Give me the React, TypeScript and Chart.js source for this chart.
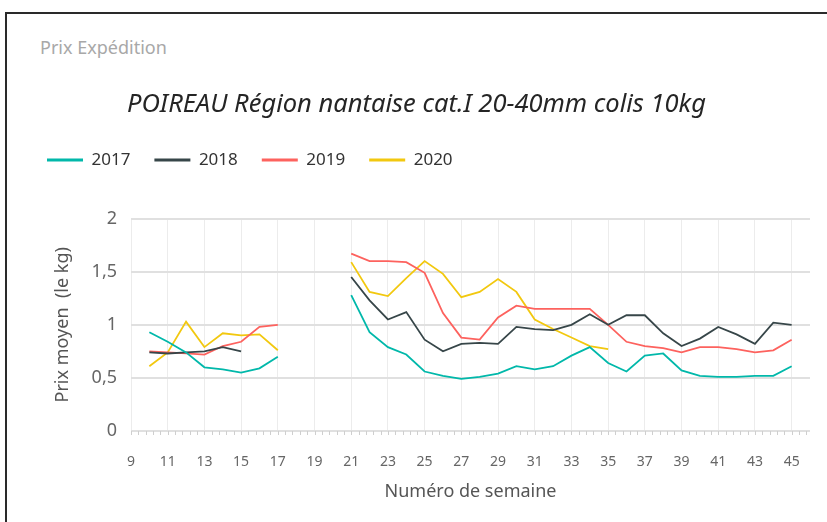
import React, { useEffect, useRef } from 'react';
import { Chart, registerables } from 'chart.js';

Chart.register(...registerables);

const FONT = '"Noto Sans", "Open Sans", sans-serif';

const weeks = [10, 11, 12, 13, 14, 15, 16, 17, 18, 19, 20, 21, 22, 23, 24, 25, 26, 27, 28, 29, 30, 31, 32, 33, 34, 35, 36, 37, 38, 39, 40, 41, 42, 43, 44, 45];

const y2017 = [0.93, 0.84, 0.74, 0.60, 0.58, 0.55, 0.59, 0.70, null, null, null, 1.28, 0.93, 0.79, 0.72, 0.56, 0.52, 0.49, 0.51, 0.54, 0.61, 0.58, 0.61, 0.71, 0.79, 0.64, 0.56, 0.71, 0.73, 0.57, 0.52, 0.51, 0.51, 0.52, 0.52, 0.61];
const y2018 = [0.74, 0.73, 0.74, 0.75, 0.79, 0.75, null, null, null, null, null, 1.45, 1.23, 1.05, 1.12, 0.86, 0.75, 0.82, 0.83, 0.82, 0.98, 0.96, 0.95, 1.00, 1.10, 1.00, 1.09, 1.09, 0.92, 0.80, 0.87, 0.98, 0.91, 0.82, 1.02, 1.00];
const y2019 = [0.75, 0.74, 0.73, 0.72, 0.80, 0.84, 0.98, 1.00, null, null, null, 1.67, 1.60, 1.60, 1.59, 1.49, 1.11, 0.88, 0.86, 1.07, 1.18, 1.15, 1.15, 1.15, 1.15, 1.00, 0.84, 0.80, 0.78, 0.74, 0.79, 0.79, 0.77, 0.74, 0.76, 0.86];
const y2020 = [0.61, 0.74, 1.03, 0.79, 0.92, 0.90, 0.91, 0.76, null, null, null, 1.59, 1.31, 1.27, 1.44, 1.60, 1.48, 1.26, 1.31, 1.43, 1.31, 1.05, 0.96, 0.88, 0.80, 0.77, null, null, null, null, null, null, null, null, null, null];

const seriesNames = ['2017', '2018', '2019', '2020'];
const seriesColors = ['#01B8AA', '#374649', '#FD625E', '#F2C80F'];

const xTickValues = [9, 11, 13, 15, 17, 19, 21, 23, 25, 27, 29, 31, 33, 35, 37, 39, 41, 43, 45];
const yTickValues = [0, 0.5, 1, 1.5, 2];
const yTickLabels = ['0', '0,5', '1', '1,5', '2'];

const minorTicks = {
  id: 'minorTicks',
  afterDraw(chart: any) {
    const xs = chart.scales.x;
    const ctx = chart.ctx;
    const bottom = chart.chartArea.bottom;
    ctx.save();
    ctx.strokeStyle = '#cfcfcf';
    ctx.lineWidth = 1;
    for (let v = xs.min; v <= xs.max + 1e-6; v += 0.4) {
      const px = Math.round(xs.getPixelForValue(v)) + 0.5;
      ctx.beginPath();
      ctx.moveTo(px, bottom);
      ctx.lineTo(px, bottom + 4);
      ctx.stroke();
    }
    ctx.restore();
  },
};

const legendSpacer = {
  id: 'legendSpacer',
  beforeLayout(chart: any) {
    const lg = chart.legend;
    if (lg && !lg.__spaced) {
      const orig = lg.fit.bind(lg);
      lg.fit = function () {
        orig();
        this.height += 40;
      };
      lg.__spaced = true;
    }
  },
};

export default function App() {
  const ref = useRef<HTMLCanvasElement>(null);

  useEffect(() => {
    document.body.style.margin = '0';
    const all = [y2017, y2018, y2019, y2020];
    const chart = new Chart(ref.current as HTMLCanvasElement, {
      type: 'line',
      data: {
        datasets: all.map((arr, i) => ({
          label: seriesNames[i],
          data: weeks.map((w, j) => ({ x: w, y: arr[j] })),
          borderColor: seriesColors[i],
          backgroundColor: seriesColors[i],
          borderWidth: 1.8,
          pointRadius: 0,
          pointHoverRadius: 0,
          spanGaps: false,
          tension: 0,
        })),
      },
      options: {
        animation: false,
        responsive: false,
        devicePixelRatio: 1,
        layout: { padding: { left: 23, right: 17, top: 60, bottom: 0 } },
        plugins: {
          tooltip: { enabled: false },
          title: {
            display: true,
            text: 'POIREAU Région nantaise cat.I 20-40mm colis 10kg',
            color: '#252525',
            font: { family: FONT, size: 25.5, style: 'italic', weight: 'normal' },
            padding: { top: 29, bottom: 8 },
          },
          legend: {
            display: true,
            position: 'top',
            align: 'start',
            labels: {
              color: '#333',
              font: { family: FONT, size: 17 },
              usePointStyle: true,
              pointStyle: 'line',
              pointStyleWidth: 36,
              padding: 24,
              generateLabels: (c: any) =>
                Chart.defaults.plugins.legend.labels.generateLabels(c).map((it: any) => ({ ...it, lineWidth: 3 })),
            },
          },
        },
        scales: {
          x: {
            type: 'linear',
            min: 9,
            max: 46,
            afterBuildTicks: (s: any) => {
              s.ticks = xTickValues.map((v) => ({ value: v }));
            },
            afterFit: (s: any) => {
              s.height = 91;
            },
            ticks: {
              color: '#666',
              font: { family: FONT, size: 14 },
              padding: 23,
              autoSkip: false,
              maxRotation: 0,
              callback: (v: any) => String(v),
            },
            grid: { color: '#ececec', lineWidth: 1, drawTicks: false },
            border: { display: false },
            title: {
              display: true,
              text: 'Numéro de semaine',
              color: '#555',
              font: { family: FONT, size: 18 },
              padding: { top: 0, bottom: 19 },
            },
          },
          y: {
            min: 0,
            max: 2,
            afterBuildTicks: (s: any) => {
              s.ticks = yTickValues.map((v) => ({ value: v }));
            },
            afterFit: (s: any) => {
              s.width = 108;
            },
            ticks: {
              color: '#666',
              font: { family: FONT, size: 18 },
              padding: 14,
              callback: (v: any) => yTickLabels[yTickValues.indexOf(Number(v))] ?? '',
            },
            grid: { color: '#e0e0e0', lineWidth: 2, drawTicks: false },
            border: { display: false },
            title: {
              display: true,
              text: 'Prix moyen  (le kg)',
              color: '#555',
              font: { family: FONT, size: 18 },
              padding: { top: 29, bottom: 0 },
            },
          },
        },
      },
      plugins: [minorTicks, legendSpacer],
    } as any);
    return () => chart.destroy();
  }, []);

  return (
    <div style={{ position: 'relative', width: 827, height: 522, background: '#fff', overflow: 'hidden', fontFamily: FONT }}>
      <div style={{ position: 'absolute', left: 5, top: 12, right: -10, bottom: -10, borderTop: '2px solid #2a2a2a', borderLeft: '2px solid #2a2a2a' }} />
      <div style={{ position: 'absolute', left: 40, top: 35, fontSize: 18, color: '#a8a8a8' }}>Prix Expédition</div>
      <canvas ref={ref} width={827} height={522} style={{ position: 'absolute', left: 0, top: 0, display: 'block' }} />
    </div>
  );
}
